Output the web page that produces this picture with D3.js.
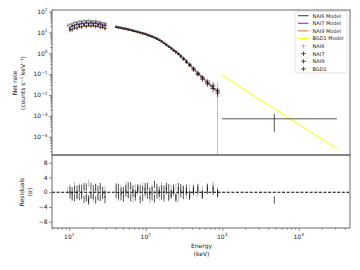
<!DOCTYPE html>
<html>
<head>
<meta charset="utf-8">
<script src="https://cdn.jsdelivr.net/npm/d3@7"></script>
<style>
body{margin:0;background:#fff}
svg text{font-family:"DejaVu Sans",sans-serif;fill:#222}
</style>
</head>
<body>
<svg></svg>
<script>
// channel energies (keV) of the two NaI fit ranges
var lowE=[9.5,10.2,10.9,11.7,12.6,13.5,14.5,15.6,16.7,17.9,19.2,20.6,22.1,23.7,25.4,27.3,29.3]
var highE=[41,44,47.5,51,55,59,63.5,68,73,78.5,84.5,91,98,105,113,121,130,140,150,161,173,186,200,215,231,248,267,287,310,340,375,420,480,550,640,760,870]

// relative errors of the net rate
var lowErr=[0.24,0.22,0.21,0.2,0.2,0.19,0.19,0.18,0.18,0.18,0.18,0.18,0.18,0.19,0.19,0.2,0.21]
var highErr=[0.05,0.05,0.05,0.05,0.05,0.05,0.05,0.05,0.05,0.05,0.05,0.05,0.05,0.05,0.06,0.06,0.06,0.06,0.07,0.07,0.08,0.08,0.09,0.1,0.1,0.11,0.12,0.13,0.14,0.15,0.17,0.2,0.22,0.25,0.28,0.32,0.35]

// net rates (counts/s/keV)
var nai6Low=[22,24.5,25,31,29.5,35,33,37,34,38.5,35,33,36,31.5,32.5,27.5,28]
var nai7Low=[null,16,20.5,21,25,23.5,27.5,25,29.5,26,30,26,28.5,24.5,26,21.5,22.5]
var nai9Low=[null,13,13.5,16.5,16,19,18,21.5,19,22,20,21.5,19,20.5,17.5,17.5,15.5]
var nai6High=[20.5,18.0,18.4,16.2,16.6,14.6,14.5,12.6,12.8,11.0,11.1,9.5,9.4,8.0,7.8,6.6,6.4,5.2,4.9,3.85,3.45,2.65,2.4,1.8,1.58,1.2,1.07,0.74,0.63,0.41,0.33,0.2,0.12,0.066,0.05,0.033,0.019]
var nai7High=[17.4,17.8,15.8,16.0,14.1,14.3,12.4,12.5,10.8,10.9,9.4,9.3,8.0,7.8,6.6,6.5,5.4,5.2,4.1,3.85,2.9,2.65,2.0,1.82,1.3,1.21,0.88,0.76,0.51,0.43,0.26,0.19,0.095,0.072,0.034,0.027,0.0125]
var nai9High=[17.8,16.0,16.1,14.3,14.5,12.8,12.6,11.0,11.1,9.7,9.6,8.3,8.2,6.9,6.9,5.8,5.6,4.6,4.25,3.4,3.0,2.35,2.1,1.6,1.38,1.06,0.94,0.66,0.56,0.36,0.29,0.158,0.11,0.058,0.042,0.02,0.016]

// residuals (sigma)
var nai6ResLow=[0.5,1.2,-1.0,1.8,-0.6,1.4,-0.8,0.9,-1.6,2.4,-0.5,-1.7,1.2,-1.2,0.9,-0.7,0.6]
var nai7ResLow=[null,-0.7,0.4,-1.5,0.8,-1.2,1.1,-1.9,1.4,-1.8,1.6,-1.0,1.3,-1.2,1.5,-0.8,-2.0]
var nai9ResLow=[null,0.6,-1.3,0.7,-0.9,1.0,-0.8,1.5,-1.4,-2.4,-0.8,0.9,-2.1,0.8,-1.4,0.5,-0.6]
var nai6ResHigh=[0.8,-1.4,1.1,-0.3,1.9,-0.9,0.4,-1.8,1.3,0.2,-1.1,1.6,-0.5,0.9,-2.1,1.2,-0.4,0.7,-1.3,1.8,-0.6,0.3,-1.5,1.0,-0.2,1.4,-1.7,0.6,0.9,-0.8,1.1,0.5,-0.3,0.8,1.5,1.9,0.4]
var nai7ResHigh=[-0.6,1.3,-1.2,0.5,-0.2,1.7,-1.5,0.9,-0.4,1.2,-2.0,0.6,1.5,-0.8,0.3,-1.3,2.1,-0.7,0.5,-1.0,0.8,1.6,-1.2,-0.3,1.1,-1.6,0.4,1.3,-0.9,0.2,-1.1,1.0,0.6,-0.5,1.2,0.3,-0.4]
var nai9ResHigh=[1.4,-0.9,0.3,-1.6,1.0,-0.5,1.8,-0.2,-1.3,0.7,1.0,-1.4,0.2,1.6,-0.9,0.5,-1.8,1.3,-0.3,0.9,-1.5,0.6,1.2,-0.7,0.4,-1.2,1.5,-0.4,0.7,1.1,-0.6,0.2,1.3,-0.8,0.5,0.9,-0.2]

// model curves
var modelLowE=[9.3,10,11,12,13.5,15,17,19,21,23.5,26,29,31]
var nai6ModelLow=[20,23,27,30,33,35,36,36,35,33,30,27,25]
var nai7ModelLow=[null,17,20,23,25,27,28,28,27.5,26,24,21.5,20]
var nai9ModelLow=[null,12.5,14.5,16.5,18,19.5,20.5,21,20.5,19.5,18,16.5,15]
var modelHighE=[40,50,63,78,94,115,140,165,190,220,256,300,346,400,467,545,631,750,895]
var nai6ModelHigh=[20,17,14,11.5,9.5,7.4,5.4,3.8,2.6,1.75,1.18,0.70,0.41,0.23,0.13,0.075,0.044,0.024,0.015]
var nai7ModelHigh=[18.4,15.6,12.9,10.6,8.7,6.8,5.0,3.5,2.4,1.6,1.08,0.64,0.38,0.21,0.12,0.069,0.040,0.022,0.0138]
var nai9ModelHigh=[17.6,15.0,12.3,10.1,8.4,6.5,4.75,3.35,2.3,1.54,1.04,0.62,0.36,0.20,0.115,0.066,0.039,0.021,0.0132]

// BGO detector: one wide bin
var bgoE=[4800], bgoLo=[990], bgoHi=[31600]
var bgoRate=[7.2e-4], bgoErr=[5.5e-4], bgoRes=[-2.1]
var bgoModelE=[990,5000,31600]
var bgoModel=[0.088,0.00197,2.6e-5]

var legendNames=["NAI6 Model","NAI7 Model","NAI9 Model","BGD1 Model","NAI6","NAI7","NAI9","BGD1"]

var plot={left:52,right:350,top:10,mid:155,bottom:228}

var svg=d3.select("svg").attr("width",360).attr("height",270)

var xScale=d3.scaleLog().domain([5.94,46900]).range([plot.left,plot.right])
var yScale=d3.scaleLog().domain([1.33e-5,118]).range([plot.mid,plot.top])
var rScale=d3.scaleLinear().domain([-9.7,10.1]).range([plot.bottom,plot.mid])

var defs=svg.append("defs")
defs.append("clipPath").attr("id","clipTop").append("rect")
    .attr("x",plot.left).attr("y",plot.top).attr("width",plot.right-plot.left).attr("height",plot.mid-plot.top)
defs.append("clipPath").attr("id","clipBot").append("rect")
    .attr("x",plot.left).attr("y",plot.mid).attr("width",plot.right-plot.left).attr("height",plot.bottom-plot.mid)

var edges=function(E)
{
    return E.map(function(e,i){
        var prev=i>0?E[i-1]:e*e/E[i+1]
        var next=i<E.length-1?E[i+1]:e*e/E[i-1]
        return [Math.sqrt(prev*e),Math.sqrt(e*next)]
    })
}

var buildPoints=function(rLow,rHigh,resLow,resHigh,lastErr)
{
    var pts=[]
    var eL=edges(lowE), eH=edges(highE)
    lowE.forEach(function(e,i){
        if(rLow[i]==null) return
        pts.push({e:e,lo:eL[i][0],hi:eL[i][1],rate:rLow[i],err:rLow[i]*lowErr[i],res:resLow[i]})
    })
    highE.forEach(function(e,i){
        var f=(i==highE.length-1 && lastErr)?lastErr:highErr[i]
        pts.push({e:e,lo:eH[i][0],hi:eH[i][1],rate:rHigh[i],err:rHigh[i]*f,res:resHigh[i]})
    })
    return pts
}

var detectors=[
    {name:"NAI6",data:"#a0a0a0",model:"#444444",pts:buildPoints(nai6Low,nai6High,nai6ResLow,nai6ResHigh,1.1),
        curves:[[modelLowE,nai6ModelLow],[modelHighE,nai6ModelHigh]]},
    {name:"NAI7",data:"#111111",model:"#a31ef0",pts:buildPoints(nai7Low,nai7High,nai7ResLow,nai7ResHigh),
        curves:[[modelLowE,nai7ModelLow],[modelHighE,nai7ModelHigh]]},
    {name:"NAI9",data:"#111111",model:"#ee7a45",pts:buildPoints(nai9Low,nai9High,nai9ResLow,nai9ResHigh),
        curves:[[modelLowE,nai9ModelLow],[modelHighE,nai9ModelHigh]]},
    {name:"BGD1",data:"#111111",model:"#ffff00",
        pts:bgoE.map(function(e,i){return {e:e,lo:bgoLo[i],hi:bgoHi[i],rate:bgoRate[i],err:bgoErr[i],res:bgoRes[i]}}),
        curves:[[bgoModelE,bgoModel]]}
]

// upper panel
var upper=svg.append("g").attr("clip-path","url(#clipTop)")

var lineGenerator=d3.line()
    .defined(function(d){return d[1]!=null})
    .x(function(d){return xScale(d[0])})
    .y(function(d){return yScale(d[1])})
    .curve(d3.curveMonotoneX)

var ymin=yScale.domain()[0]

var crossPath=function(d)
{
    var low=d.rate-d.err>0?d.rate-d.err:ymin/10
    return "M"+xScale(d.lo)+","+yScale(d.rate)+"H"+xScale(d.hi)+
        "M"+xScale(d.e)+","+yScale(d.rate+d.err)+"V"+yScale(low)
}

detectors.forEach(function(det){
    det.curves.forEach(function(c){
        upper.append("path")
            .datum(c[0].map(function(e,i){return [e,c[1][i]]}))
            .attr("d",lineGenerator)
            .attr("fill","none")
            .attr("stroke",det.model)
            .attr("stroke-width",1)
    })
})

detectors.forEach(function(det){
    upper.append("g").selectAll("path")
        .data(det.pts)
        .enter()
        .append("path")
        .attr("d",crossPath)
        .attr("fill","none")
        .attr("stroke",det.data)
        .attr("stroke-width",0.7)
})

// lower panel: residuals with 1 sigma bars
var lower=svg.append("g").attr("clip-path","url(#clipBot)")

detectors.forEach(function(det){
    lower.append("g").selectAll("path")
        .data(det.pts)
        .enter()
        .append("path")
        .attr("d",function(d){
            return "M"+xScale(d.e)+","+rScale(d.res+1)+"V"+rScale(d.res-1)
        })
        .attr("fill","none")
        .attr("stroke",det.data)
        .attr("stroke-width",0.7)
})

lower.append("line")
    .attr("x1",plot.left).attr("x2",plot.right)
    .attr("y1",rScale(0)).attr("y2",rScale(0))
    .attr("stroke","#000").attr("stroke-width",1.1)
    .attr("stroke-dasharray","3,1.6")

// frames
svg.append("rect").attr("x",plot.left).attr("y",plot.top)
    .attr("width",plot.right-plot.left).attr("height",plot.mid-plot.top)
    .attr("fill","none").attr("stroke","#444").attr("stroke-width",0.8)
svg.append("rect").attr("x",plot.left).attr("y",plot.mid)
    .attr("width",plot.right-plot.left).attr("height",plot.bottom-plot.mid)
    .attr("fill","none").attr("stroke","#444").attr("stroke-width",0.8)

// axes
var powLabel=function(t,exp)
{
    t.append("tspan").text("10")
    t.append("tspan").attr("dy",-2.5).attr("font-size","4.3px").text(exp<0?"\u2212"+(-exp):exp)
}

var minors=function(scale,kmin,kmax)
{
    var out=[]
    var dom=scale.domain()
    for(var k=kmin;k<=kmax;k++)
        for(var m=2;m<10;m++)
        {
            var v=m*Math.pow(10,k)
            if(v>=dom[0] && v<=dom[1]) out.push(v)
        }
    return out
}

var yMajor=d3.range(-4,3)
svg.append("g").attr("transform","translate("+plot.left+",0)")
    .call(d3.axisLeft(yScale).tickValues(yMajor.map(function(k){return Math.pow(10,k)})).tickSize(3).tickFormat(""))
svg.append("g").attr("transform","translate("+plot.left+",0)")
    .call(d3.axisLeft(yScale).tickValues(minors(yScale,-5,2)).tickSize(1.7).tickFormat(""))

yMajor.forEach(function(k){
    var t=svg.append("text")
        .attr("x",plot.left-4.5).attr("y",yScale(Math.pow(10,k))+2.3)
        .attr("text-anchor","end").attr("font-size","6px")
    powLabel(t,k)
})

var rTicks=[-8,-4,0,4,8]
svg.append("g").attr("transform","translate("+plot.left+",0)")
    .call(d3.axisLeft(rScale).tickValues(rTicks).tickSize(3).tickFormat(""))
rTicks.forEach(function(v){
    svg.append("text")
        .attr("x",plot.left-4.5).attr("y",rScale(v)+2.1)
        .attr("text-anchor","end").attr("font-size","6px")
        .text(v<0?"\u2212"+(-v):v)
})

var xMajor=[1,2,3,4]
svg.append("g").attr("transform","translate(0,"+plot.bottom+")")
    .call(d3.axisBottom(xScale).tickValues(xMajor.map(function(k){return Math.pow(10,k)})).tickSize(3).tickFormat(""))
svg.append("g").attr("transform","translate(0,"+plot.bottom+")")
    .call(d3.axisBottom(xScale).tickValues(minors(xScale,0,4)).tickSize(1.7).tickFormat(""))

xMajor.forEach(function(k){
    var t=svg.append("text")
        .attr("x",xScale(Math.pow(10,k))).attr("y",plot.bottom+10.5)
        .attr("text-anchor","middle").attr("font-size","6px")
    powLabel(t,k)
})

svg.selectAll(".domain").remove()
svg.selectAll(".tick line").attr("stroke","#444").attr("stroke-width",0.6)

// axis titles
svg.append("text").attr("transform","translate(16.5,83) rotate(-90)")
    .attr("text-anchor","middle").attr("font-size","6px").text("Net rate")
svg.append("text").attr("transform","translate(24.5,83) rotate(-90)")
    .attr("text-anchor","middle").attr("font-size","6px").text("(counts s\u207b\u00b9 keV\u207b\u00b9)")
svg.append("text").attr("transform","translate(23.5,192) rotate(-90)")
    .attr("text-anchor","middle").attr("font-size","6px").text("Residuals")
svg.append("text").attr("transform","translate(31.5,192) rotate(-90)")
    .attr("text-anchor","middle").attr("font-size","6px").text("(\u03c3)")
svg.append("text").attr("x",201.5).attr("y",248)
    .attr("text-anchor","middle").attr("font-size","6px").text("Energy")
svg.append("text").attr("x",201.5).attr("y",256)
    .attr("text-anchor","middle").attr("font-size","6px").text("(keV)")

// legend
var legend=svg.append("g")
legend.append("rect").attr("x",295).attr("y",11.5).attr("width",52).attr("height",61.5)
    .attr("rx",1.5).attr("fill","#fff").attr("fill-opacity",0.85)
    .attr("stroke","#d0d0d0").attr("stroke-width",0.6)

legendNames.forEach(function(name,i){
    var y=15.7+i*7.6
    if(i<4)
    {
        legend.append("line").attr("x1",298).attr("x2",308.5).attr("y1",y).attr("y2",y)
            .attr("stroke",detectors[i].model).attr("stroke-width",1.1)
    }
    else
    {
        legend.append("path")
            .attr("d","M301,"+y+"H306M303.5,"+(y-2.2)+"V"+(y+2.2))
            .attr("stroke",detectors[i-4].data).attr("stroke-width",0.7)
    }
    legend.append("text").attr("x",312.5).attr("y",y+1.8)
        .attr("font-size","5px").text(name)
})
</script>
</body>
</html>
